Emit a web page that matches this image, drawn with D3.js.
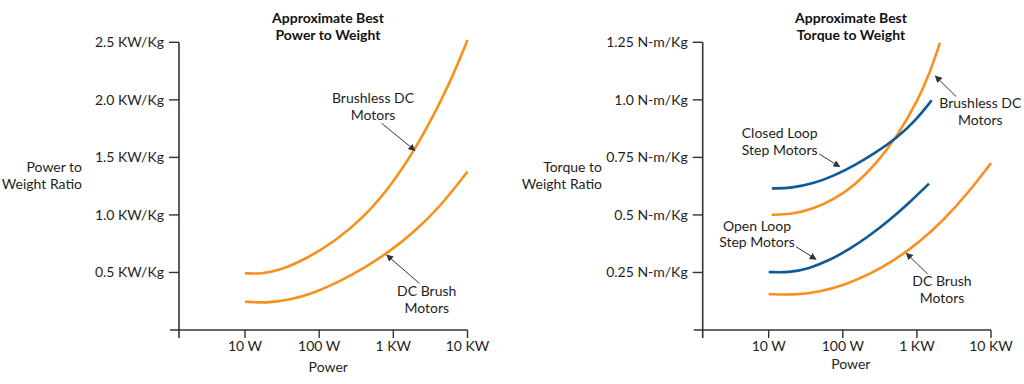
<!DOCTYPE html>
<html>
<head>
<meta charset="utf-8">
<script src="https://cdn.jsdelivr.net/npm/d3@7"></script>
<style>
  html, body { margin: 0; padding: 0; background: #fff; }
  svg { display: block; font-family: Lato, "Open Sans", sans-serif; }
</style>
</head>
<body>
<svg id="chart" width="1024" height="384"></svg>
<script>
// ---------- DATA ----------
const xTickValues = [10, 100, 1000, 10000];
const xTickLabels = ["10 W", "100 W", "1 KW", "10 KW"];

// Left panel: power to weight (KW/Kg)
const powerYTicks = [0.5, 1.0, 1.5, 2.0, 2.5];
const powerYTickLabels = ["0.5 KW/Kg", "1.0 KW/Kg", "1.5 KW/Kg", "2.0 KW/Kg", "2.5 KW/Kg"];
const brushlessPowerW = [10, 16.95, 29.65, 64.4, 163.5, 415, 1053, 2673, 5808, 10000];
const brushlessPowerRatio = [0.493, 0.487, 0.519, 0.613, 0.769, 0.987, 1.295, 1.716, 2.146, 2.52];
const dcBrushPowerW = [10, 18.6, 40.4, 87.9, 190.9, 415, 902, 1960, 4259, 10000];
const dcBrushPowerRatio = [0.246, 0.234, 0.260, 0.325, 0.423, 0.543, 0.684, 0.858, 1.071, 1.376];

// Right panel: torque to weight (N-m/Kg)
const torqueYTicks = [0.25, 0.5, 0.75, 1.0, 1.25];
const torqueYTickLabels = ["0.25 N-m/Kg", "0.5 N-m/Kg", "0.75 N-m/Kg", "1.0 N-m/Kg", "1.25 N-m/Kg"];
const brushlessTorqueW = [11, 20.6, 39.6, 76.1, 146, 281, 539, 1035, 1503, 2050];
const brushlessTorqueRatio = [0.500, 0.503, 0.526, 0.567, 0.630, 0.722, 0.840, 0.999, 1.119, 1.248];
const dcBrushTorqueW = [10, 21.8, 47.3, 103, 224, 486, 1057, 2300, 4850, 10000];
const dcBrushTorqueRatio = [0.156, 0.152, 0.165, 0.194, 0.240, 0.301, 0.379, 0.477, 0.594, 0.725];
const closedLoopW = [11, 20.6, 39.6, 76.1, 146, 281, 539, 937, 1584];
const closedLoopRatio = [0.615, 0.617, 0.636, 0.670, 0.716, 0.771, 0.835, 0.906, 0.998];
const openLoopW = [10, 18.8, 35.0, 65.1, 121, 226, 420, 782, 1457];
const openLoopRatio = [0.252, 0.249, 0.267, 0.302, 0.349, 0.408, 0.475, 0.552, 0.636];

const ORANGE = "#F7901E";
const BLUE = "#0D5A96";
const INK = "#1e1e1e";

// ---------- DRAW ----------
const svg = d3.select("#chart");
const defs = svg.append("defs");
defs.append("marker")
  .attr("id", "arrow").attr("viewBox", "0 0 10 10")
  .attr("refX", 9).attr("refY", 5)
  .attr("markerWidth", 7).attr("markerHeight", 7)
  .attr("markerUnits", "userSpaceOnUse")
  .attr("orient", "auto")
  .append("path").attr("d", "M0,0 L10,5 L0,10 Z").attr("fill", "#333");

function zip(xs, ys) { return xs.map((x, i) => ({ x, y: ys[i] })); }

function drawPanel(cfg) {
  const g = svg.append("g");
  const x = d3.scaleLog().domain([10, 10000]).range(cfg.xRange);
  const y = d3.scaleLinear().domain([0, cfg.yMax]).range([330, 42.3]);

  // axes lines
  g.append("line").attr("x1", cfg.axisX).attr("x2", cfg.axisX)
    .attr("y1", y(cfg.yMax)).attr("y2", 338)
    .attr("stroke", "#333").attr("stroke-width", 1.6);
  g.append("line").attr("x1", cfg.axisX - 9).attr("x2", cfg.xRange[1])
    .attr("y1", 330).attr("y2", 330)
    .attr("stroke", "#333").attr("stroke-width", 1.6);

  // y ticks
  cfg.yTicks.forEach((v, i) => {
    g.append("line").attr("x1", cfg.axisX - 10).attr("x2", cfg.axisX)
      .attr("y1", y(v)).attr("y2", y(v)).attr("stroke", "#333").attr("stroke-width", 1.4);
    g.append("text").attr("x", cfg.axisX - 15).attr("y", y(v)).attr("dy", "0.35em")
      .attr("text-anchor", "end").attr("font-size", 14).attr("fill", INK)
      .text(cfg.yTickLabels[i]);
  });

  // x ticks
  xTickValues.forEach((v, i) => {
    g.append("line").attr("x1", x(v)).attr("x2", x(v))
      .attr("y1", 330).attr("y2", 338).attr("stroke", "#333").attr("stroke-width", 1.4);
    g.append("text").attr("x", x(v)).attr("y", 351)
      .attr("text-anchor", "middle").attr("font-size", 14).attr("fill", INK)
      .text(xTickLabels[i]);
  });

  // labels
  g.append("text").attr("x", (x(10) + x(10000)) / 2 + cfg.xLabelShift).attr("y", cfg.xLabelY)
    .attr("text-anchor", "middle").attr("font-size", 14).attr("fill", INK).text("Power");
  cfg.yLabel.forEach((t, i) => {
    g.append("text").attr("x", cfg.yLabelX).attr("y", 172 + i * 16.5)
      .attr("text-anchor", "end").attr("font-size", 14).attr("fill", INK).text(t);
  });
  cfg.title.forEach((t, i) => {
    g.append("text").attr("x", cfg.titleX).attr("y", 23 + i * 16.5)
      .attr("text-anchor", "middle").attr("font-size", 14).attr("font-weight", "bold")
      .attr("fill", "#111").text(t);
  });

  // series (smooth B-spline through the read points)
  const line = d3.line().x(d => x(d.x)).y(d => y(d.y)).curve(d3.curveBasis);
  cfg.series.forEach(s => {
    g.append("path").datum(zip(s.xs, s.ys)).attr("d", line)
      .attr("fill", "none").attr("stroke", s.color).attr("stroke-width", 2.6)
      .attr("stroke-linecap", "butt");
  });

  // annotations
  cfg.notes.forEach(n => {
    n.lines.forEach((t, i) => {
      g.append("text").attr("x", n.tx).attr("y", n.ty + i * 16.5)
        .attr("text-anchor", "middle").attr("font-size", 14).attr("fill", INK).text(t);
    });
    g.append("line").attr("x1", n.a[0]).attr("y1", n.a[1]).attr("x2", n.b[0]).attr("y2", n.b[1])
      .attr("stroke", "#333").attr("stroke-width", 1).attr("marker-end", "url(#arrow)");
  });
}

drawPanel({
  xRange: [245, 467.5], axisX: 179, yMax: 2.5,
  yTicks: powerYTicks, yTickLabels: powerYTickLabels,
  yLabel: ["Power to", "Weight Ratio"], yLabelX: 82,
  title: ["Approximate Best", "Power to Weight"], titleX: 328,
  xLabelY: 372, xLabelShift: -28,
  series: [
    { xs: brushlessPowerW, ys: brushlessPowerRatio, color: ORANGE },
    { xs: dcBrushPowerW, ys: dcBrushPowerRatio, color: ORANGE }
  ],
  notes: [
    { lines: ["Brushless DC", "Motors"], tx: 373, ty: 103, a: [381.7, 123.3], b: [415, 150.5] },
    { lines: ["DC Brush", "Motors"], tx: 426.7, ty: 296, a: [419.3, 283.3], b: [386.7, 255] }
  ]
});

drawPanel({
  xRange: [768.7, 991], axisX: 702.7, yMax: 1.25,
  yTicks: torqueYTicks, yTickLabels: torqueYTickLabels,
  yLabel: ["Torque to", "Weight Ratio"], yLabelX: 602,
  title: ["Approximate Best", "Torque to Weight"], titleX: 851,
  xLabelY: 368.5, xLabelShift: -29,
  series: [
    { xs: brushlessTorqueW, ys: brushlessTorqueRatio, color: ORANGE },
    { xs: dcBrushTorqueW, ys: dcBrushTorqueRatio, color: ORANGE },
    { xs: closedLoopW, ys: closedLoopRatio, color: BLUE },
    { xs: openLoopW, ys: openLoopRatio, color: BLUE }
  ],
  notes: [
    { lines: ["Closed Loop", "Step Motors"], tx: 779.7, ty: 138.3, a: [819.3, 154], b: [839.7, 166.7] },
    { lines: ["Open Loop", "Step Motors"], tx: 757, ty: 230.7, a: [796, 246.7], b: [816, 259.3] },
    { lines: ["Brushless DC", "Motors"], tx: 980.3, ty: 108.3, a: [956.3, 96.7], b: [935.3, 76] },
    { lines: ["DC Brush", "Motors"], tx: 942, ty: 286, a: [927.7, 274], b: [906.3, 253.3] }
  ]
});
</script>
</body>
</html>
